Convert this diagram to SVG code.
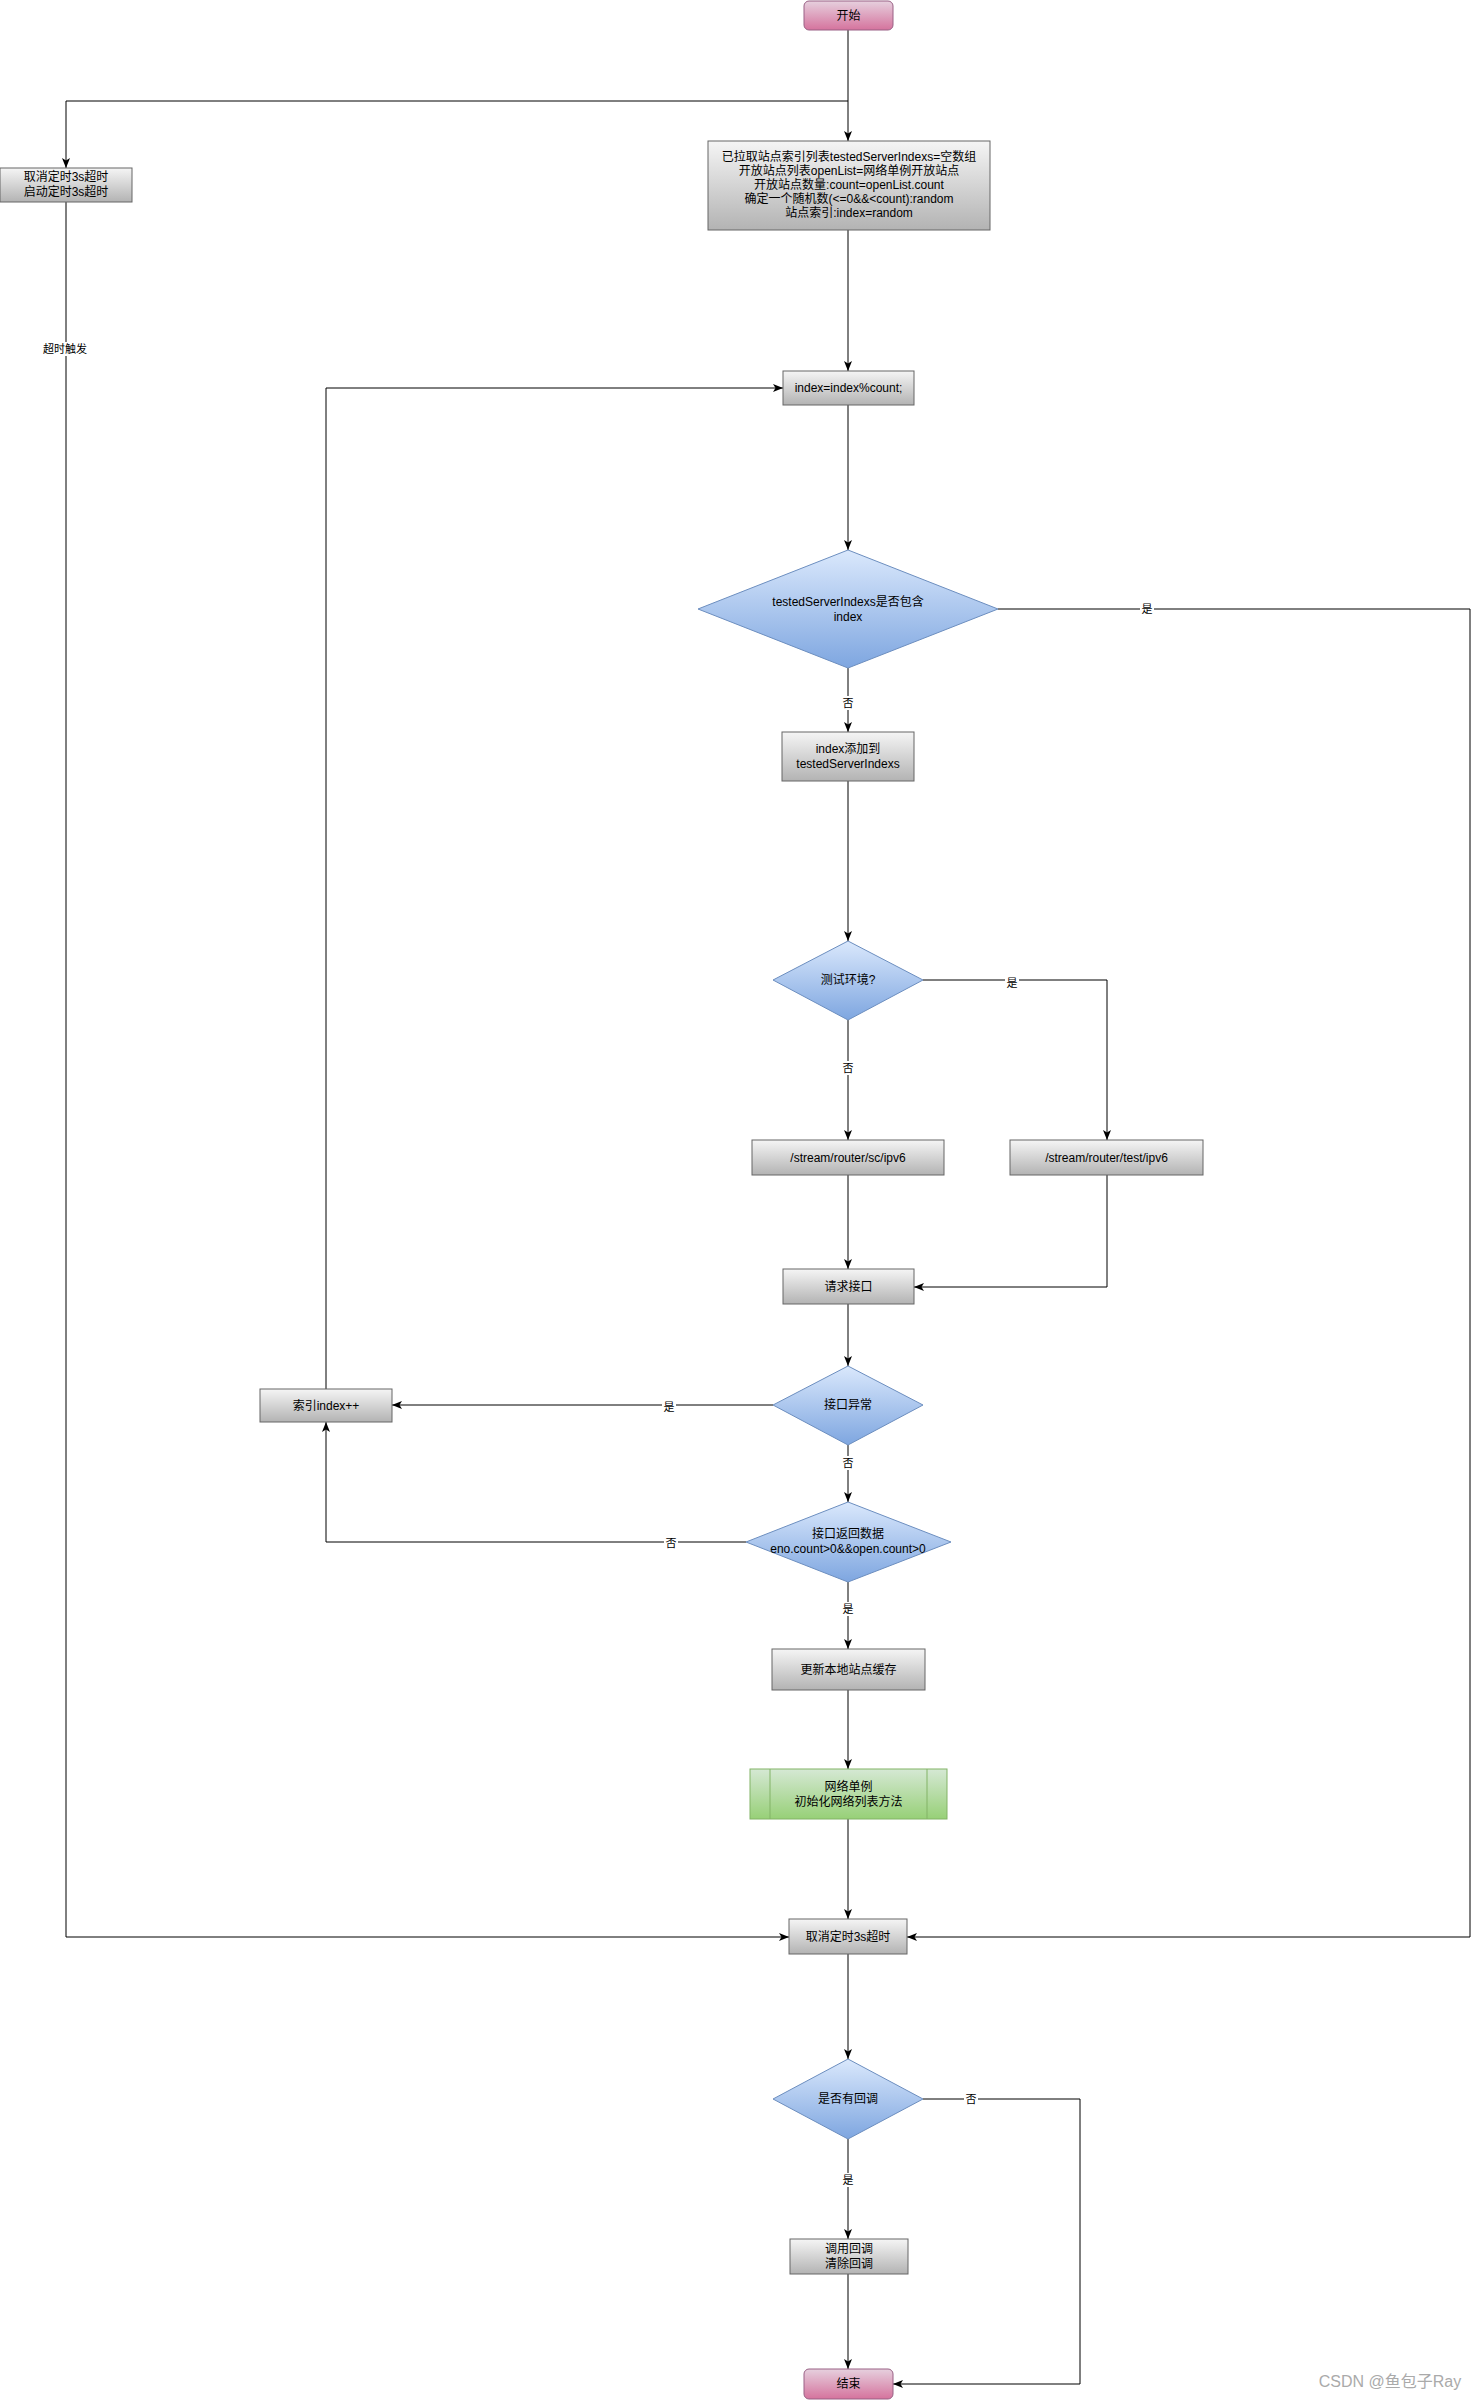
<svg xmlns="http://www.w3.org/2000/svg" width="1479" height="2400" viewBox="0 0 1479 2400">
<style>
text{font-family:"Liberation Sans","Noto Sans CJK SC",Arial,sans-serif;font-size:12px;fill:#000;text-anchor:middle}
.box{fill:url(#gGray);stroke:#666666;stroke-width:1}
.dia{fill:url(#gBlue);stroke:#6c8ebf;stroke-width:1}
.term{fill:url(#gPink);stroke:#996185;stroke-width:1}
.sub{fill:url(#gGreen);stroke:#82b366;stroke-width:1}
.c{fill:none;stroke:#000;stroke-width:1;marker-end:url(#arr)}
.lbl{font-size:11px}
.lb{fill:#fff}
</style>
<defs>
<linearGradient id="gGray" x1="0" y1="0" x2="0" y2="1"><stop offset="0" stop-color="#f5f5f5"/><stop offset="1" stop-color="#b3b3b3"/></linearGradient>
<linearGradient id="gBlue" x1="0" y1="0" x2="0" y2="1"><stop offset="0" stop-color="#dae8fc"/><stop offset="1" stop-color="#7ea6e0"/></linearGradient>
<linearGradient id="gPink" x1="0" y1="0" x2="0" y2="1"><stop offset="0" stop-color="#e6d0de"/><stop offset="1" stop-color="#d5739d"/></linearGradient>
<linearGradient id="gGreen" x1="0" y1="0" x2="0" y2="1"><stop offset="0" stop-color="#d5e8d4"/><stop offset="1" stop-color="#97d077"/></linearGradient>
<marker id="arr" markerUnits="userSpaceOnUse" markerWidth="10" markerHeight="10" viewBox="0 0 10 10" refX="10" refY="5" orient="auto">
<path d="M0,1 L10,5 L0,9 L2.5,5 Z" fill="#000"/>
</marker>
</defs>
<rect width="1479" height="2400" fill="#fff"/>

<g id="connectors">
<path class="c" d="M848,30 V141"/>
<path class="c" d="M848,101 H66 V168"/>
<path class="c" d="M848,230 V371"/>
<path class="c" d="M848,405 V550"/>
<path class="c" d="M848,668 V732"/>
<path class="c" d="M998,609 H1470 V1937 H907"/>
<path class="c" d="M848,781 V941"/>
<path class="c" d="M848,1020 V1140"/>
<path class="c" d="M923,980 H1107 V1140"/>
<path class="c" d="M848,1175 V1269"/>
<path class="c" d="M1107,1175 V1287 H914"/>
<path class="c" d="M848,1304 V1366"/>
<path class="c" d="M773,1405 H392"/>
<path class="c" d="M848,1445 V1502"/>
<path class="c" d="M746,1542 H326 V1422"/>
<path class="c" d="M326,1389 V388 H783"/>
<path class="c" d="M848,1582 V1649"/>
<path class="c" d="M848,1690 V1769"/>
<path class="c" d="M848,1819 V1919"/>
<path class="c" d="M66,202 V1937 H789"/>
<path class="c" d="M848,1954 V2059"/>
<path class="c" d="M848,2139 V2239"/>
<path class="c" d="M923,2099 H1080 V2384 H893"/>
<path class="c" d="M848,2274 V2369"/>
<g id="labels">
<rect class="lb" x="42" y="342" width="46" height="14"/><text class="lbl" x="65" y="353">超时触发</text>
<rect class="lb" x="841" y="696" width="14" height="14"/><text class="lbl" x="848" y="707">否</text>
<rect class="lb" x="1140" y="602" width="14" height="14"/><text class="lbl" x="1147" y="613">是</text>
<rect class="lb" x="841" y="1061" width="14" height="14"/><text class="lbl" x="848" y="1072">否</text>
<rect class="lb" x="1005" y="976" width="14" height="14"/><text class="lbl" x="1012" y="987">是</text>
<rect class="lb" x="662" y="1400" width="14" height="14"/><text class="lbl" x="669" y="1411">是</text>
<rect class="lb" x="841" y="1456" width="14" height="14"/><text class="lbl" x="848" y="1467">否</text>
<rect class="lb" x="664" y="1536" width="14" height="14"/><text class="lbl" x="671" y="1547">否</text>
<rect class="lb" x="841" y="1602" width="14" height="14"/><text class="lbl" x="848" y="1613">是</text>
<rect class="lb" x="841" y="2173" width="14" height="14"/><text class="lbl" x="848" y="2184">是</text>
<rect class="lb" x="964" y="2092" width="14" height="14"/><text class="lbl" x="971" y="2103">否</text>
</g>
</g>

<g id="start"><rect class="term" x="804" y="1" width="89" height="29" rx="5"/><text x="848.5" y="20">开始</text></g>
<g id="timer"><rect class="box" x="0" y="168" width="132" height="34"/><text x="66" y="181">取消定时3s超时</text><text x="66" y="196">启动定时3s超时</text></g>
<g id="init"><rect class="box" x="708" y="141" width="282" height="89"/>
<text x="849" y="161">已拉取站点索引列表testedServerIndexs=空数组</text>
<text x="849" y="175">开放站点列表openList=网络单例开放站点</text>
<text x="849" y="189">开放站点数量:count=openList.count</text>
<text x="849" y="203">确定一个随机数(&lt;=0&amp;&amp;&lt;count):random</text>
<text x="849" y="217">站点索引:index=random</text></g>
<g id="modidx"><rect class="box" x="783" y="371" width="131" height="34"/><text x="848.5" y="392">index=index%count;</text></g>
<g id="contains"><polygon class="dia" points="848,550 998,609 848,668 698,609"/><text x="848" y="606">testedServerIndexs是否包含</text><text x="848" y="621">index</text></g>
<g id="addidx"><rect class="box" x="782" y="732" width="132" height="49"/><text x="848" y="753">index添加到</text><text x="848" y="768">testedServerIndexs</text></g>
<g id="testenv"><polygon class="dia" points="848,941 923,980 848,1020 773,980"/><text x="848" y="984">测试环境?</text></g>
<g id="scpath"><rect class="box" x="752" y="1140" width="192" height="35"/><text x="848" y="1162">/stream/router/sc/ipv6</text></g>
<g id="testpath"><rect class="box" x="1010" y="1140" width="193" height="35"/><text x="1106.5" y="1162">/stream/router/test/ipv6</text></g>
<g id="request"><rect class="box" x="783" y="1269" width="131" height="35"/><text x="848.5" y="1291">请求接口</text></g>
<g id="exception"><polygon class="dia" points="848,1366 923,1405 848,1445 773,1405"/><text x="848" y="1409">接口异常</text></g>
<g id="incidx"><rect class="box" x="260" y="1389" width="132" height="33"/><text x="326" y="1410">索引index++</text></g>
<g id="checkdata"><polygon class="dia" points="848,1502 951,1542 848,1582 746,1542"/><text x="848" y="1538">接口返回数据</text><text x="848" y="1553">eno.count&gt;0&amp;&amp;open.count&gt;0</text></g>
<g id="updatecache"><rect class="box" x="772" y="1649" width="153" height="41"/><text x="848.5" y="1674">更新本地站点缓存</text></g>
<g id="netinit"><rect class="sub" x="750" y="1769" width="197" height="50"/><line x1="770" y1="1769" x2="770" y2="1819" stroke="#82b366"/><line x1="927" y1="1769" x2="927" y2="1819" stroke="#82b366"/><text x="848.5" y="1791">网络单例</text><text x="848.5" y="1806">初始化网络列表方法</text></g>
<g id="canceltimer"><rect class="box" x="789" y="1919" width="118" height="35"/><text x="848" y="1941">取消定时3s超时</text></g>
<g id="hascb"><polygon class="dia" points="848,2059 923,2099 848,2139 773,2099"/><text x="848" y="2103">是否有回调</text></g>
<g id="callcb"><rect class="box" x="790" y="2239" width="118" height="35"/><text x="849" y="2253">调用回调</text><text x="849" y="2268">清除回调</text></g>
<g id="end"><rect class="term" x="804" y="2369" width="89" height="30" rx="5"/><text x="848.5" y="2388">结束</text></g>
<text x="1390" y="2387" style="font-size:16px;fill:#aaaaaa">CSDN @鱼包子Ray</text>
</svg>
